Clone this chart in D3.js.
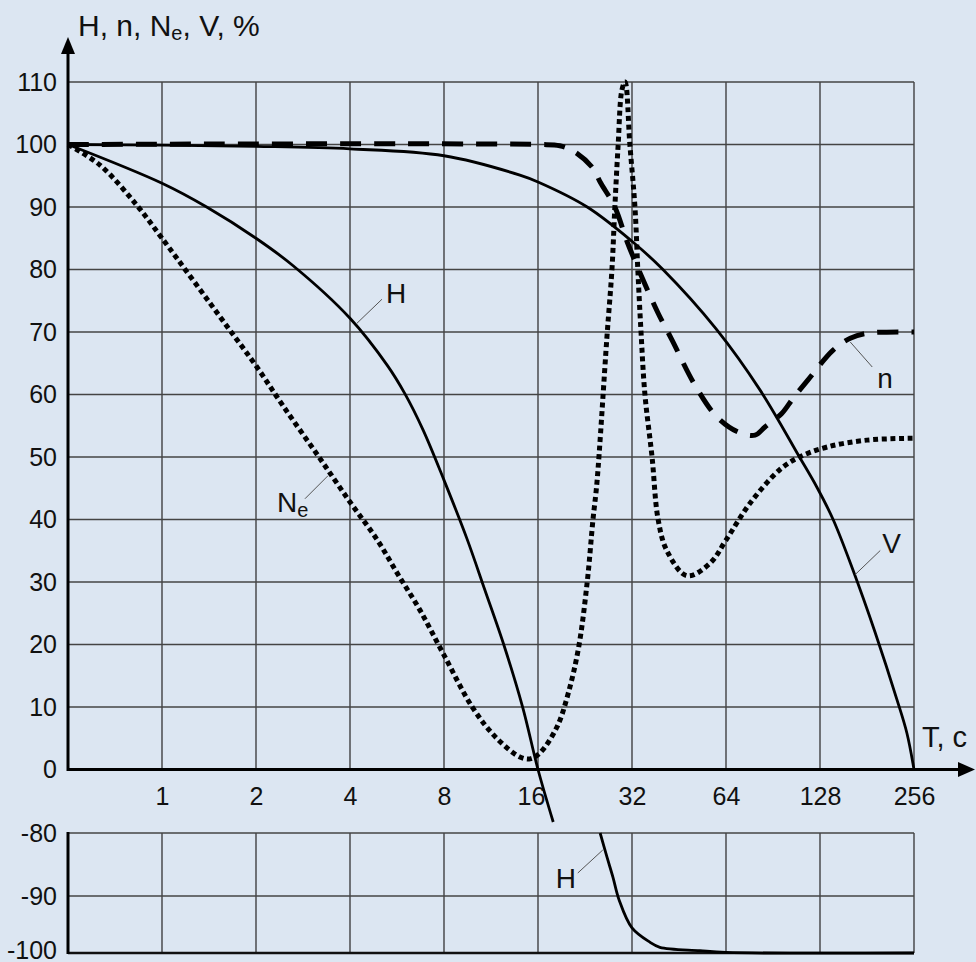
<!DOCTYPE html>
<html>
<head>
<meta charset="utf-8">
<script src="https://cdn.jsdelivr.net/npm/d3@7"></script>
<style>
  body { margin: 0; background: #dce6f2; }
  svg { display: block; font-family: 'Liberation Sans', Arial, sans-serif; }
</style>
</head>
<body>
<script>
// tick labels
let xTicks = [1, 2, 4, 8, 16, 32, 64, 128, 256]
let yTicks = [0, 10, 20, 30, 40, 50, 60, 70, 80, 90, 100, 110]
let lowTicks = [-100, -90, -80]

// H, upper part (T in s, value in %)
let hT = [0.5, 1, 1.39, 2, 2.63, 4, 5.26, 6.0, 6.86, 8, 9.48, 10.8, 12.5, 14.3, 16, 17.9]
let hV = [100, 93.8, 90, 85, 80.6, 72.2, 64.7, 60.1, 54.3, 46.3, 36.9, 28.8, 19.6, 9.9, 0, -8.4]

// H, lower part
let hLowT = [25.3, 26.6, 27.8, 29.1, 32, 36.5, 39.3, 52.8, 64, 256]
let hLowV = [-80, -83.8, -87, -90.7, -95.6, -98.1, -99, -99.6, -99.9, -100]

// Ne
let neT = [0.5, 0.633, 0.83, 1, 1.61, 2, 2.44, 3.14, 4, 4.88, 5.7, 6.7, 8, 9.91, 11.8, 14.0, 15.1, 16.2,
           18.4, 20.0, 21.6, 23.0, 24.0, 24.7, 26.6, 27.6, 28.2, 28.9, 29.7, 30.4, 31.5, 32.7, 33.4, 34.2,
           35.2, 37.1, 38.8, 41.4, 48.0, 56.9, 64, 76.4, 95.3, 110, 135, 181, 256]
let neV = [100, 96.7, 90.3, 85, 71, 64.6, 58.2, 50.4, 42.8, 36.8, 31.2, 25.5, 18.3, 9.8, 5, 2, 1.7, 2.6,
           6.8, 12.2, 19.6, 30, 40, 45.8, 69.2, 80, 90, 100, 108.7, 110, 100, 90, 80, 70,
           60, 50, 40, 35, 31, 33, 36.7, 42.6, 48, 50, 51.6, 52.7, 53]

// n
let nT = [0.5, 16, 18.8, 21.0, 24.0, 25.3, 28.2, 30.9, 34.4, 38.8, 43.0, 50.9, 59.9, 70.0, 79.3, 85.3, 96.7,
          105, 117, 141, 160, 181, 256]
let nV = [100, 100, 99.8, 98.8, 96.2, 94, 90, 84.4, 78.8, 73, 68.7, 61.5, 56.4, 54, 53.5, 54.8, 57,
          59.4, 62.3, 67.1, 69, 69.8, 70]

// V
let vT = [0.5, 1, 2, 4, 8, 14.0, 16, 23.0, 32.2, 40.2, 59.5, 82.3, 110, 125, 141, 163, 192, 226, 243, 256]
let vV = [100, 99.9, 99.7, 99.3, 98.2, 95.1, 94, 90, 84.4, 80, 70.5, 60.7, 50, 45.2, 40, 32, 22, 11.1, 5.8, 0]

let zip = (ts, vs) => ts.map((t, i) => ({t: t, v: vs[i]}))

// canvas
let width = 976
let height = 962

let svg = d3.select('body').append('svg')
    .attr('width', width)
    .attr('height', height)

svg.append('rect')
    .attr('width', width)
    .attr('height', height)
    .attr('fill', '#dce6f2')

// scales
let xScale = d3.scaleLog().base(2)
    .domain([0.5, 256])
    .range([68, 914])

let yScale = d3.scaleLinear()
    .domain([0, 110])
    .range([769.5, 82])

let yLow = d3.scaleLinear()
    .domain([-100, -90, -80])
    .range([953, 896, 833])

let gridColor = '#333'

// upper grid
svg.append('g')
    .selectAll('line')
    .data(xTicks)
    .enter()
    .append('line')
    .attr('x1', (d) => xScale(d))
    .attr('x2', (d) => xScale(d))
    .attr('y1', yScale(110))
    .attr('y2', yScale(0))
    .attr('stroke', gridColor)
    .attr('stroke-width', 1.3)

svg.append('g')
    .selectAll('line')
    .data(yTicks.filter((d) => d > 0))
    .enter()
    .append('line')
    .attr('x1', xScale(0.5))
    .attr('x2', xScale(256))
    .attr('y1', (d) => yScale(d))
    .attr('y2', (d) => yScale(d))
    .attr('stroke', '#444')
    .attr('stroke-width', 1.6)

// lower grid
svg.append('g')
    .selectAll('line')
    .data(xTicks)
    .enter()
    .append('line')
    .attr('x1', (d) => xScale(d))
    .attr('x2', (d) => xScale(d))
    .attr('y1', yLow(-80))
    .attr('y2', yLow(-100))
    .attr('stroke', gridColor)
    .attr('stroke-width', 1.3)

svg.append('g')
    .selectAll('line')
    .data([-90, -80])
    .enter()
    .append('line')
    .attr('x1', xScale(0.5))
    .attr('x2', xScale(256))
    .attr('y1', (d) => yLow(d))
    .attr('y2', (d) => yLow(d))
    .attr('stroke', '#444')
    .attr('stroke-width', 1.6)

// lower panel borders
svg.append('line')
    .attr('x1', xScale(0.5)).attr('x2', xScale(256))
    .attr('y1', yLow(-100)).attr('y2', yLow(-100))
    .attr('stroke', '#111').attr('stroke-width', 2.6)
svg.append('line')
    .attr('x1', xScale(0.5)).attr('x2', xScale(0.5))
    .attr('y1', yLow(-80) - 1).attr('y2', yLow(-100) + 1)
    .attr('stroke', '#000').attr('stroke-width', 3)

// main axes with arrows
let x0 = xScale(0.5)
let y0 = yScale(0)
svg.append('line')
    .attr('x1', x0).attr('x2', 964)
    .attr('y1', y0).attr('y2', y0)
    .attr('stroke', '#000').attr('stroke-width', 3)
svg.append('line')
    .attr('x1', x0).attr('x2', x0)
    .attr('y1', y0 + 1.5).attr('y2', 50)
    .attr('stroke', '#000').attr('stroke-width', 3)
svg.append('path')
    .attr('d', 'M' + x0 + ',37 L' + (x0 - 7) + ',54 L' + (x0 + 7) + ',54 Z')
    .attr('fill', '#000')
svg.append('path')
    .attr('d', 'M975,' + y0 + ' L958,' + (y0 - 7.5) + ' L958,' + (y0 + 7.5) + ' Z')
    .attr('fill', '#000')

// axis labels
let yAxis = d3.axisLeft(yScale)
    .tickValues(yTicks)
    .tickFormat((d) => String(d))
    .tickSize(0)
    .tickPadding(11)
let lowAxis = d3.axisLeft(yLow)
    .tickValues(lowTicks)
    .tickFormat((d) => String(d))
    .tickSize(0)
    .tickPadding(11)
let xAxis = d3.axisBottom(xScale)
    .tickValues(xTicks)
    .tickFormat((d) => String(d))
    .tickSize(0)
    .tickPadding(18)

let styleAxis = (g) => {
    g.select('.domain').remove()
    g.selectAll('text')
        .attr('font-size', 25)
        .attr('font-family', "'Liberation Sans', Arial, sans-serif")
        .attr('fill', '#111')
}

svg.append('g')
    .attr('transform', 'translate(' + x0 + ',0)')
    .call(yAxis)
    .call(styleAxis)
svg.append('g')
    .attr('transform', 'translate(' + x0 + ',0)')
    .call(lowAxis)
    .call(styleAxis)
    .selectAll('text')
    .attr('dy', (d) => d === -100 ? '0.2em' : '0.32em')
svg.append('g')
    .attr('transform', 'translate(0,' + y0 + ')')
    .call(xAxis)
    .call(styleAxis)
    .selectAll('text')
    .attr('dx', (d) => d === 16 ? -7 : 0)

// title and unit
let title = svg.append('text')
    .attr('x', 78)
    .attr('y', 36)
    .attr('font-size', 30)
    .attr('fill', '#111')
title.append('tspan').text('H, n, N')
title.append('tspan').text('e').attr('font-size', 20).attr('dy', 4)
title.append('tspan').text(', V, %').attr('dy', -4)

svg.append('text')
    .attr('x', 922)
    .attr('y', 747)
    .attr('font-size', 29)
    .attr('fill', '#111')
    .text('T, c')

// curves
let line = d3.line()
    .x((d) => xScale(d.t))
    .y((d) => yScale(d.v))
    .curve(d3.curveCatmullRom.alpha(0.5))

let lineLow = d3.line()
    .x((d) => xScale(d.t))
    .y((d) => yLow(d.v))
    .curve(d3.curveCatmullRom.alpha(0.5))

svg.append('path')
    .attr('d', line(zip(vT, vV)))
    .attr('fill', 'none')
    .attr('stroke', '#000')
    .attr('stroke-width', 2.8)

svg.append('path')
    .attr('d', line(zip(hT, hV)))
    .attr('fill', 'none')
    .attr('stroke', '#000')
    .attr('stroke-width', 2.8)

svg.append('path')
    .attr('d', lineLow(zip(hLowT, hLowV)))
    .attr('fill', 'none')
    .attr('stroke', '#000')
    .attr('stroke-width', 2.8)

svg.append('path')
    .attr('d', line(zip(nT, nV)))
    .attr('fill', 'none')
    .attr('stroke', '#000')
    .attr('stroke-width', 5)
    .attr('stroke-dasharray', '21 13')

svg.append('path')
    .attr('d', line(zip(neT, neV)))
    .attr('fill', 'none')
    .attr('stroke', '#000')
    .attr('stroke-width', 5)
    .attr('stroke-dasharray', '5 3.6')

// curve labels: anchor on the curve, leader end and text offset in px
let notes = [
    {name: 'H', sub: '', t: 4.21, v: 71.4, low: false, lx: 25, ly: -24, tx: 29, ty: -20},
    {name: 'N', sub: 'e', t: 3.40, v: 47, low: false, lx: -23, ly: 23, tx: -51, ty: 36},
    {name: 'n', sub: '', t: 160, v: 68.4, low: false, lx: 22, ly: 25, tx: 27, ty: 46},
    {name: 'V', sub: '', t: 166, v: 31.2, low: false, lx: 25, ly: -24, tx: 27, ty: -22},
    {name: 'H', sub: '', t: 25.8, v: -82.7, low: true, lx: -25, ly: 23, tx: -47, ty: 38}
]

notes.forEach((d) => {
    let px = xScale(d.t)
    let py = d.low ? yLow(d.v) : yScale(d.v)
    svg.append('line')
        .attr('x1', px).attr('y1', py)
        .attr('x2', px + d.lx).attr('y2', py + d.ly)
        .attr('stroke', '#555')
        .attr('stroke-width', 1)
    let txt = svg.append('text')
        .attr('x', px + d.tx)
        .attr('y', py + d.ty)
        .attr('font-size', 28)
        .attr('fill', '#111')
    txt.append('tspan').text(d.name)
    if (d.sub) {
        txt.append('tspan').text(d.sub).attr('font-size', 20).attr('dy', 5)
    }
})
</script>
</body>
</html>
